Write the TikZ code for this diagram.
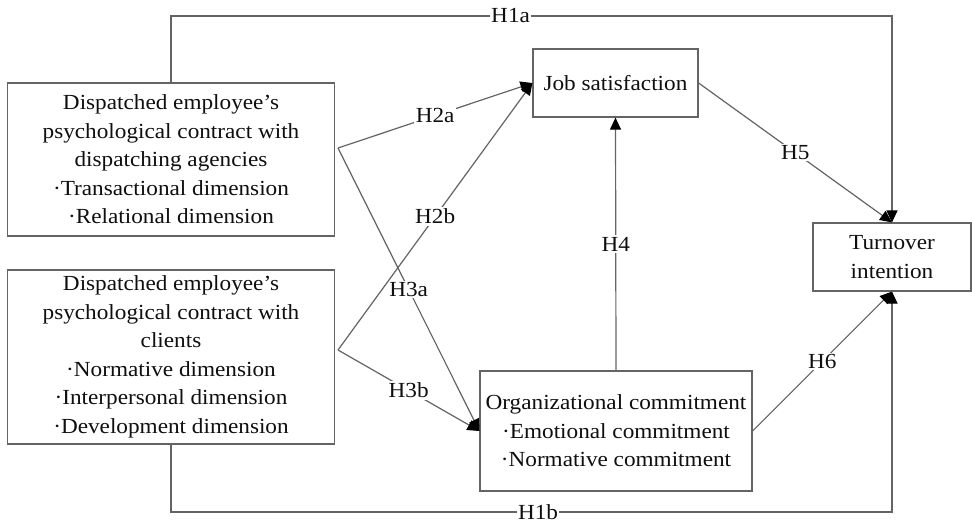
\documentclass[tikz,border=0pt]{standalone}
\usepackage{fontspec}
\setmainfont{Liberation Serif}[FakeStretch=1.08]
\usetikzlibrary{arrows.meta}
\definecolor{linegray}{RGB}{100,100,100}
\definecolor{textcol}{RGB}{15,15,15}
\begin{document}
\begin{tikzpicture}[x=1pt,y=-1pt,
  box/.style={draw=linegray, line width=1.2pt, fill=white, align=center, inner sep=0pt,
    text=textcol, font=\fontsize{21.5}{28.5}\selectfont},
  conn/.style={draw=linegray, line width=1.2pt},
  arr/.style={conn, -{Triangle[length=12pt,width=11pt,color=black]}},
  lbl/.style={fill=white, inner sep=1.5pt, text=textcol, font=\fontsize{21.5}{24}\selectfont}]
\fill[white] (0,0) rectangle (972,525);
\useasboundingbox (0,0) rectangle (972,525);

\node[box, minimum width=327pt, minimum height=153pt] (A) at (171,159.5)
  {Dispatched employee’s\\psychological contract with\\dispatching agencies\\·Transactional dimension\\·Relational dimension};
\node[box, minimum width=327pt, minimum height=174pt] (B) at (171,357)
  {Dispatched employee’s\\psychological contract with\\clients\\·Normative dimension\\·Interpersonal dimension\\·Development dimension};
\node[box, minimum width=165pt, minimum height=68pt] (JS) at (615.5,83) {Job satisfaction};
\node[box, minimum width=158pt, minimum height=68pt] (T) at (892,257) {Turnover\\intention};
\node[box, minimum width=272pt, minimum height=120pt] (O) at (616,431)
  {Organizational commitment\\·Emotional commitment\\·Normative commitment};

\coordinate (pA) at (338,148);
\coordinate (pB) at (338,350);
\coordinate (c1) at (171,16);
\coordinate (c2) at (892,16);
\coordinate (c3) at (171,512);
\coordinate (c4) at (892,512);

\draw[arr] (A.north) -- (c1) -- node[lbl,pos=0.471]{H1a} (c2) -- (T.north);
\draw[arr] (B.south) -- (c3) -- node[lbl,pos=0.509]{H1b} (c4) -- (T.south);

\draw[arr] (pA) -- node[lbl]{H2a} (JS.west);
\draw[arr] (pA) -- node[lbl]{H3a} (O.west);
\draw[arr] (pB) -- node[lbl]{H2b} (JS.west);
\draw[arr] (pB) -- node[lbl]{H3b} (O.west);
\draw[arr] (O.north) -- node[lbl]{H4} (JS.south);
\draw[arr] (JS.east) -- node[lbl]{H5} (T.north);
\draw[arr] (O.east) -- node[lbl]{H6} (T.south);
\end{tikzpicture}
\end{document}
